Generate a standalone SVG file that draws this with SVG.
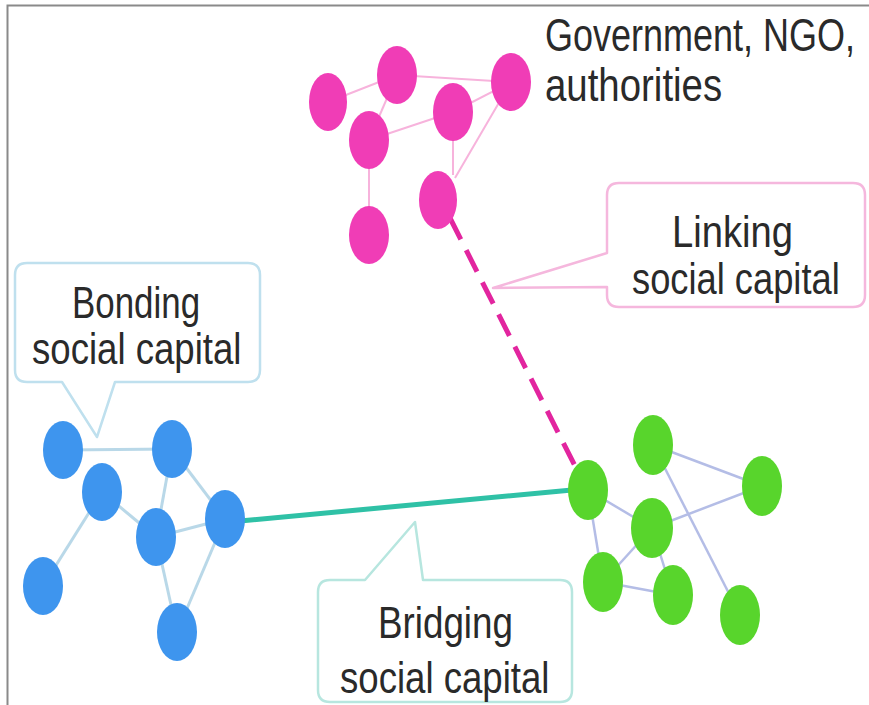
<svg xmlns="http://www.w3.org/2000/svg" width="869" height="705" viewBox="0 0 869 705">
<style>
text{font-family:"Liberation Sans","DejaVu Sans",sans-serif;fill:#2a2a2a;}
.mag{fill:#f03db6;}
.blu{fill:#3e95ee;}
.grn{fill:#58d52c;}
.em{stroke:#f7b3dc;stroke-width:2;fill:none;}
.eb{stroke:#b9d8e8;stroke-width:3;fill:none;}
.eg{stroke:#b4bde6;stroke-width:2.5;fill:none;}
.co{fill:#fff;stroke-width:2.5;stroke-linejoin:round;}
.sc{font-size:36.6px;}
</style>
<rect width="869" height="705" fill="#fff"/>
<path d="M7.5 705 V5.5 H869" fill="none" stroke="#8a8a8a" stroke-width="2"/>
<g id="connectors">
<line class="em" x1="328" y1="102" x2="397" y2="75"/>
<line class="em" x1="397" y1="75" x2="511" y2="82"/>
<line class="em" x1="369" y1="140" x2="397" y2="75"/>
<line class="em" x1="369" y1="140" x2="453" y2="112"/>
<line class="em" x1="453" y1="112" x2="511" y2="82"/>
<line class="em" x1="453" y1="112" x2="453" y2="175"/>
<line class="em" x1="511" y1="82" x2="455" y2="178"/>
<line class="em" x1="369" y1="140" x2="369" y2="235"/>
<line class="eb" x1="63" y1="450" x2="172" y2="449"/>
<line class="eb" x1="102" y1="492" x2="156" y2="537"/>
<line class="eb" x1="102" y1="492" x2="43" y2="586"/>
<line class="eb" x1="172" y1="449" x2="156" y2="537"/>
<line class="eb" x1="172" y1="449" x2="225" y2="519"/>
<line class="eb" x1="156" y1="537" x2="225" y2="519"/>
<line class="eb" x1="156" y1="537" x2="177" y2="632"/>
<line class="eb" x1="225" y1="519" x2="177" y2="632"/>
<line class="eg" x1="588" y1="490" x2="652" y2="528"/>
<line class="eg" x1="588" y1="490" x2="603" y2="582"/>
<line class="eg" x1="653" y1="445" x2="762" y2="486"/>
<line class="eg" x1="653" y1="445" x2="740" y2="615"/>
<line class="eg" x1="652" y1="528" x2="762" y2="486"/>
<line class="eg" x1="652" y1="528" x2="603" y2="582"/>
<line class="eg" x1="603" y1="582" x2="673" y2="595"/>
<line class="eg" x1="652" y1="528" x2="673" y2="595"/>
<line x1="240" y1="521" x2="572" y2="490" stroke="#2fc1a6" stroke-width="5"/>
<line x1="450" y1="218" x2="576" y2="468" stroke="#e2259f" stroke-width="5" stroke-dasharray="24 12"/>
</g>
<g id="node-magenta">
<ellipse class="mag" cx="328" cy="102" rx="19" ry="29"/>
<ellipse class="mag" cx="397" cy="75" rx="20" ry="29"/>
<ellipse class="mag" cx="369" cy="140" rx="20" ry="29"/>
<ellipse class="mag" cx="453" cy="112" rx="20" ry="29"/>
<ellipse class="mag" cx="511" cy="82" rx="20" ry="29"/>
<ellipse class="mag" cx="438" cy="200" rx="19" ry="29"/>
<ellipse class="mag" cx="369" cy="235" rx="20" ry="29"/>
</g>
<g id="node-blue">
<ellipse class="blu" cx="63" cy="450" rx="20" ry="29"/>
<ellipse class="blu" cx="172" cy="449" rx="20" ry="29"/>
<ellipse class="blu" cx="102" cy="492" rx="20" ry="29"/>
<ellipse class="blu" cx="156" cy="537" rx="20" ry="29"/>
<ellipse class="blu" cx="225" cy="519" rx="20" ry="29"/>
<ellipse class="blu" cx="43" cy="586" rx="20" ry="29"/>
<ellipse class="blu" cx="177" cy="632" rx="20" ry="29"/>
</g>
<g id="node-green">
<ellipse class="grn" cx="588" cy="490" rx="20" ry="30"/>
<ellipse class="grn" cx="653" cy="445" rx="20" ry="30"/>
<ellipse class="grn" cx="762" cy="486" rx="20" ry="30"/>
<ellipse class="grn" cx="652" cy="528" rx="21" ry="30"/>
<ellipse class="grn" cx="603" cy="582" rx="20" ry="30"/>
<ellipse class="grn" cx="673" cy="595" rx="20" ry="30"/>
<ellipse class="grn" cx="740" cy="615" rx="20" ry="30"/>
</g>
<g id="label-government">
<text transform="translate(545,51) scale(1,1.27)" font-size="36">Government, NGO,</text>
<text transform="translate(545,101) scale(1,1.2)" font-size="38.4">authorities</text>
</g>
<g id="callout-bonding">
<path class="co" stroke="#bfe0ee" d="M27 263 H248 Q260 263 260 275 V370 Q260 382 248 382 H115 L97 437 L62 382 H27 Q15 382 15 370 V275 Q15 263 27 263 Z"/>
<text transform="translate(72,318) scale(1,1.26)" font-size="34.9">Bonding</text>
<text class="sc" transform="translate(32,364) scale(1,1.2)">social capital</text>
</g>
<g id="callout-linking">
<path class="co" stroke="#f5b7dd" d="M619 183 H853 Q865 183 865 195 V295 Q865 307 853 307 H619 Q607 307 607 295 V287 L493 288 L607 253 V195 Q607 183 619 183 Z"/>
<text transform="translate(672,247) scale(1,1.15)" font-size="38.2">Linking</text>
<text transform="translate(632,294) scale(1,1.2)" font-size="36.3">social capital</text>
</g>
<g id="callout-bridging">
<path class="co" stroke="#b7e6df" d="M330 580 H365 L415 522 L423 580 H560 Q572 580 572 592 V690 Q572 702 560 702 H330 Q318 702 318 690 V592 Q318 580 330 580 Z"/>
<text transform="translate(378,638) scale(1,1.2)" font-size="36.8">Bridging</text>
<text class="sc" transform="translate(340,693) scale(1,1.2)">social capital</text>
</g>
</svg>
